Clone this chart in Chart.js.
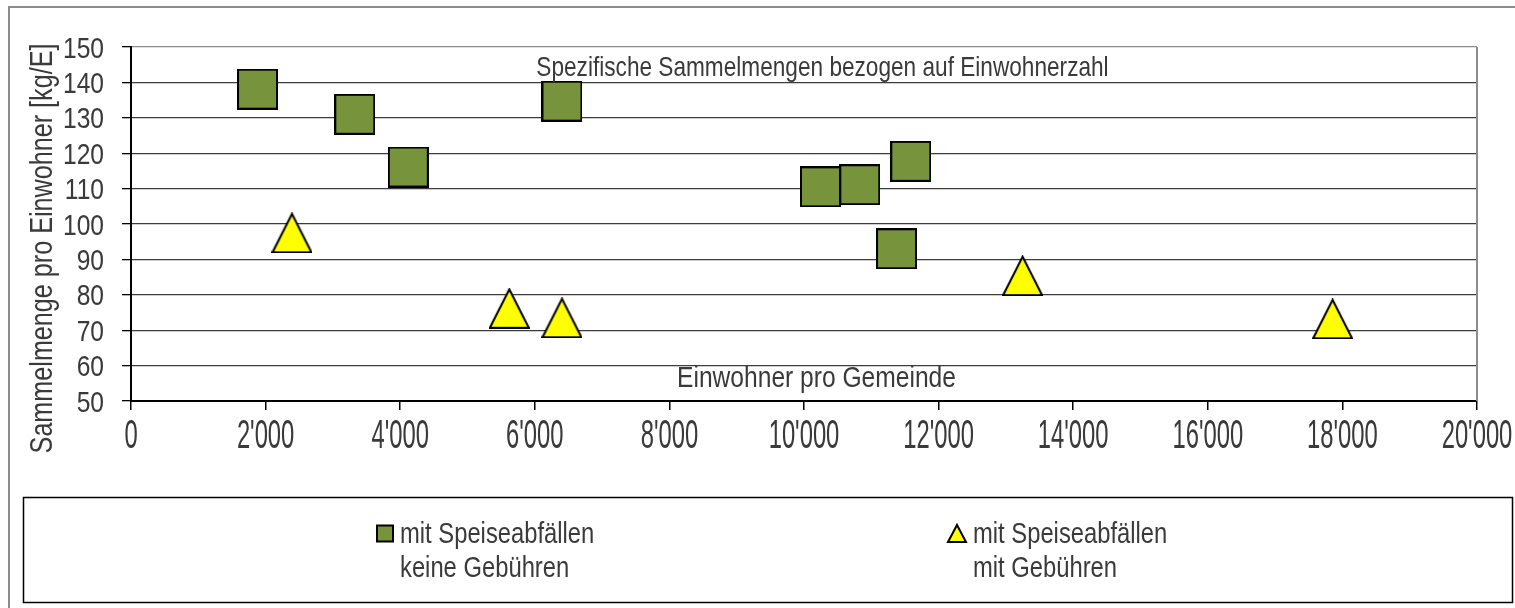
<!DOCTYPE html>
<html>
<head>
<meta charset="utf-8">
<script src="https://cdn.jsdelivr.net/npm/chart.js@4.4.0/dist/chart.umd.min.js"></script>
<style>
  body { margin: 0; background: #fff; }
  #wrap { width: 1515px; height: 608px; position: relative; }
</style>
</head>
<body>
<div id="wrap"><canvas id="chart"></canvas></div>
<script>
// mit Speiseabfällen, keine Gebühren
const keineX = [1880, 3325, 4120, 6404, 10245, 10829, 11587, 11375];
const keineY = [138.1, 131.0, 116.1, 134.7, 110.5, 111.1, 117.7, 93.0];
// mit Speiseabfällen, mit Gebühren
const mitX = [2392, 5621, 6404, 13248, 17854];
const mitY = [97.5, 76.2, 73.5, 85.4, 73.2];

const seriesNames = [['mit Speiseabfällen', 'keine Gebühren'], ['mit Speiseabfällen', 'mit Gebühren']];
const xTickLabels = ['0', "2'000", "4'000", "6'000", "8'000", "10'000", "12'000", "14'000", "16'000", "18'000", "20'000"];
const yTickLabels = ['50', '60', '70', '80', '90', '100', '110', '120', '130', '140', '150'];
const chartTitle = 'Spezifische Sammelmengen bezogen auf Einwohnerzahl';
const xTitle = 'Einwohner pro Gemeinde';
const yTitle = 'Sammelmenge pro Einwohner [kg/E]';

// no narrow font installed, so Liberation Sans is squeezed horizontally
const FAMILY = "'Liberation Sans', Arial, sans-serif";
const NARROW = 0.82;
const GREEN = '#77933c';
const YELLOW = '#ffff00';
const TEXT = '#3a3a3a';

function makeMarker(kind, size, fill) {
  const c = document.createElement('canvas');
  c.width = size; c.height = size;
  const g = c.getContext('2d');
  g.fillStyle = fill; g.strokeStyle = '#000'; g.lineWidth = 2;
  g.beginPath();
  if (kind === 'rect') {
    g.rect(1, 1, size - 2, size - 2);
  } else {
    g.moveTo(size / 2, 1.5); g.lineTo(size - 1, size - 1); g.lineTo(1, size - 1); g.closePath();
  }
  g.fill(); g.stroke();
  return c;
}

const squareImg = makeMarker('rect', 41, GREEN);
const triImg = makeMarker('tri', 41, YELLOW);

function squeezed(ctx, text, x, y, size, align, sy, rot) {
  ctx.save();
  ctx.translate(x, y);
  if (rot) ctx.rotate(rot);
  ctx.scale(NARROW, sy || 1);
  ctx.font = size + 'px ' + FAMILY;
  ctx.textAlign = align;
  ctx.textBaseline = 'alphabetic';
  ctx.fillText(text, 0, 0);
  ctx.restore();
}

const extras = {
  id: 'extras',
  beforeDraw(chart) {
    const ctx = chart.ctx;
    ctx.save();
    ctx.fillStyle = '#fff';
    ctx.fillRect(0, 0, chart.width, chart.height);
    ctx.strokeStyle = '#8c8c8c'; ctx.lineWidth = 2;
    ctx.strokeRect(9, 7, chart.width + 20, chart.height + 20);
    ctx.restore();
  },
  beforeDatasetsDraw(chart) {
    const { ctx, chartArea: a } = chart;
    ctx.save();
    ctx.strokeStyle = '#8c8c8c'; ctx.lineWidth = 2;
    ctx.beginPath(); ctx.moveTo(a.right, a.top); ctx.lineTo(a.right, a.bottom); ctx.stroke();
    ctx.restore();
  },
  afterDraw(chart) {
    const { ctx, scales: { x, y } } = chart;
    ctx.save();
    ctx.fillStyle = TEXT;

    // tick labels
    x.ticks.forEach((t, i) => {
      squeezed(ctx, xTickLabels[i], x.getPixelForValue(t.value), 448, 29, 'center', 1.4);
    });
    y.ticks.forEach((t, i) => {
      squeezed(ctx, yTickLabels[i], 104, y.getPixelForValue(t.value) + 10.5, 30, 'right');
    });

    // titles inside plot and along the axis
    squeezed(ctx, chartTitle, 822.5, 76, 27.6, 'center');
    squeezed(ctx, xTitle, 816.5, 387, 30, 'center');
    squeezed(ctx, yTitle, 52, 248.5, 30.7, 'center', 1, -Math.PI / 2);

    // legend box
    ctx.strokeStyle = '#000'; ctx.lineWidth = 1.5;
    ctx.strokeRect(23.5, 497.5, 1489, 105);

    const items = [
      { x: 377, style: 'rect', fill: GREEN, lines: seriesNames[0] },
      { x: 948, style: 'tri', fill: YELLOW, lines: seriesNames[1] }
    ];
    items.forEach(it => {
      ctx.fillStyle = it.fill; ctx.strokeStyle = '#000'; ctx.lineWidth = 2;
      ctx.beginPath();
      if (it.style === 'rect') {
        ctx.rect(it.x, 525.5, 16, 16);
      } else {
        ctx.moveTo(it.x + 9, 525); ctx.lineTo(it.x + 18, 542); ctx.lineTo(it.x, 542); ctx.closePath();
      }
      ctx.fill(); ctx.stroke();
      ctx.fillStyle = TEXT;
      const tx = it.x + (it.style === 'rect' ? 23 : 25);
      squeezed(ctx, it.lines[0], tx, 543, 29, 'left');
      squeezed(ctx, it.lines[1], tx, 577, 29, 'left');
    });
    ctx.restore();
  }
};

new Chart(document.getElementById('chart'), {
  type: 'scatter',
  data: {
    datasets: [
      {
        label: seriesNames[0].join(' '),
        data: keineX.map((v, i) => ({ x: v, y: keineY[i] })),
        pointStyle: squareImg,
        backgroundColor: GREEN,
        borderColor: '#000'
      },
      {
        label: seriesNames[1].join(' '),
        data: mitX.map((v, i) => ({ x: v, y: mitY[i] })),
        pointStyle: triImg,
        backgroundColor: YELLOW,
        borderColor: '#000'
      }
    ]
  },
  options: {
    responsive: true,
    maintainAspectRatio: false,
    animation: false,
    events: [],
    layout: { padding: { top: 47, right: 38, left: 0, bottom: 0 } },
    plugins: {
      legend: { display: false },
      tooltip: { enabled: false }
    },
    scales: {
      x: {
        type: 'linear',
        min: 0,
        max: 20000,
        ticks: { stepSize: 2000, display: false },
        grid: { drawOnChartArea: false, drawTicks: true, tickLength: 9, color: '#000', lineWidth: 1.5 },
        border: { color: '#000', width: 2 },
        afterFit: (s) => { s.height = 207; }
      },
      y: {
        min: 50,
        max: 150,
        ticks: { stepSize: 10, display: false, autoSkip: false },
        grid: {
          color: (c) => (c.tick && c.tick.value === 150 ? '#8c8c8c' : '#3c3c3c'),
          lineWidth: 1.3,
          tickLength: 9,
          tickColor: '#000'
        },
        border: { color: '#000', width: 2 },
        afterFit: (s) => { s.width = 131; }
      }
    }
  },
  plugins: [extras]
});
</script>
</body>
</html>
